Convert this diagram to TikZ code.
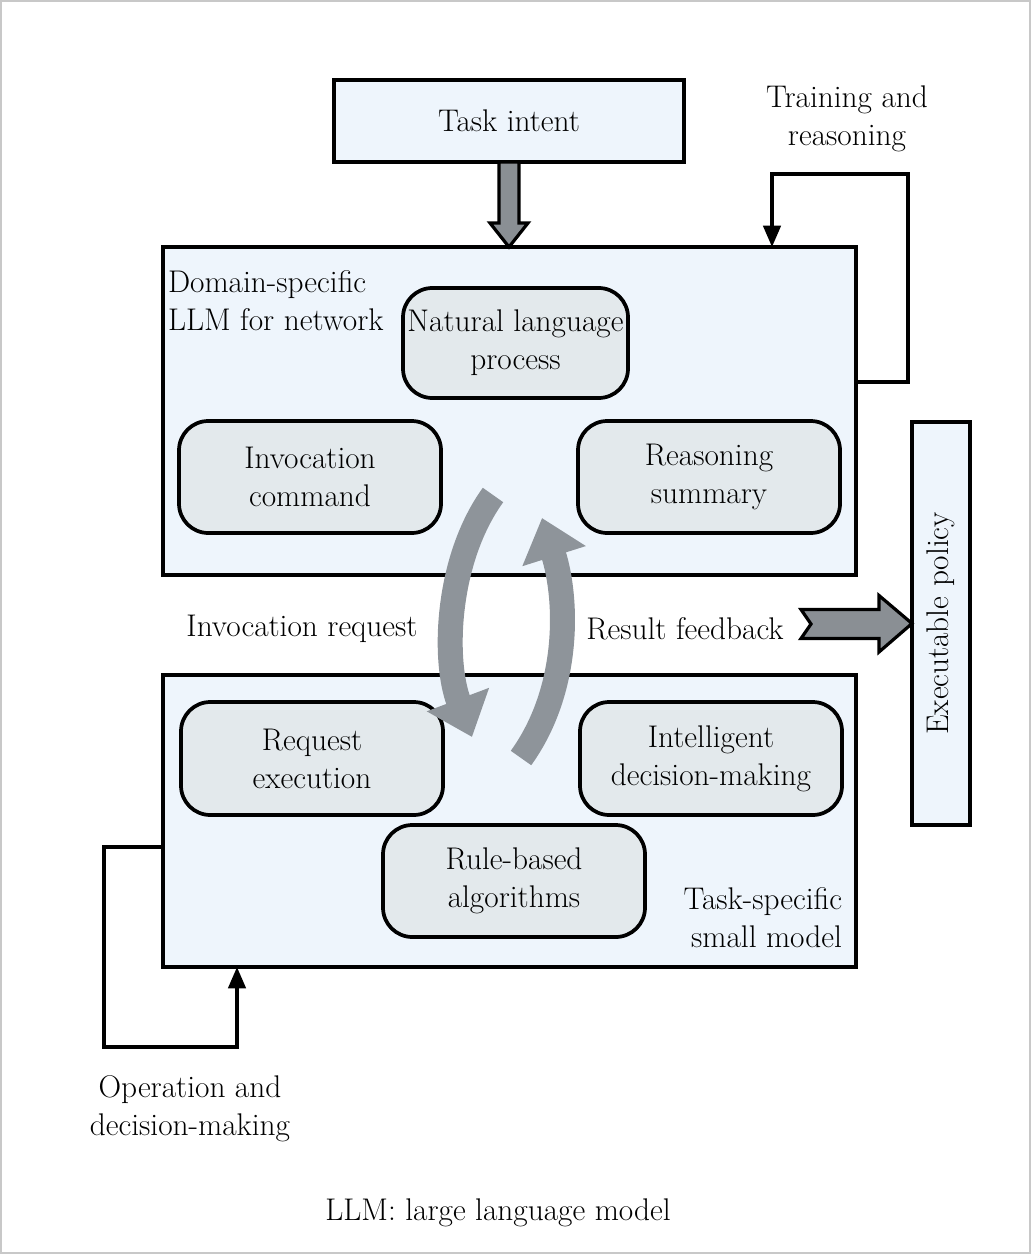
\documentclass[tikz,border=0pt]{standalone}
\usetikzlibrary{arrows.meta}
\definecolor{boxblue}{HTML}{EEF5FC}
\definecolor{roundgray}{HTML}{E3E9EC}
\definecolor{arrgray}{HTML}{8E949A}
\definecolor{blkgray}{HTML}{8A8F94}
\definecolor{framegray}{HTML}{C8C8C8}
\begin{document}
\begin{tikzpicture}[x=0.75pt,y=-0.75pt,
  every node/.style={font=\fontsize{23.5pt}{28.5pt}\selectfont, inner sep=0pt, outer sep=0pt},
  bigbox/.style={draw, line width=2.6pt, fill=boxblue},
  rbox/.style={draw, line width=2.8pt, fill=roundgray, rounded corners=22pt, minimum width=196.5pt, minimum height=84pt, align=center},
  loopline/.style={draw, line width=2.6pt, -{Triangle[width=13pt,length=16pt]}},
  blockarrow/.style={draw, line width=2.4pt, fill=blkgray, line join=miter},
  curvearrow/.style={draw=arrgray, line width=18.75pt, -{Triangle[width=48pt,length=30pt]}}
]
\useasboundingbox (0,0) rectangle (1032,1255);
\draw[framegray, line width=1.2pt] (1,1) rectangle (1030,1253);

% main boxes
\node[bigbox, minimum width=262.5pt, minimum height=61.5pt] (task) at (509,121) {Task intent};
\node[bigbox, minimum width=519.75pt, minimum height=246pt] (llm) at (509.5,411) {};
\node[bigbox, minimum width=519.75pt, minimum height=219pt] (small) at (509.5,821) {};
\node[bigbox, rotate=90, minimum width=302.25pt, minimum height=43.5pt] (exec) at (941,623.5) {Executable policy};

% inner rounded boxes
\node[rbox, minimum width=168.75pt, minimum height=82.5pt] (nlp) at (515.5,343) {Natural language\\process};
\node[rbox] (inv) at (310,477) {Invocation\\command};
\node[rbox] (rsn) at (709,477) {Reasoning\\summary};
\node[rbox, minimum height=84.75pt] (req) at (312,758.5) {Request\\execution};
\node[rbox, minimum height=84.75pt] (intd) at (711,758.5) {Intelligent\\decision-making};
\node[rbox] (rule) at (514,881) {Rule-based\\algorithms};

% labels
\node[align=left, anchor=west] (llmlbl) at (168,301) {Domain-specific\\LLM for network};
\node[align=center] (trlbl) at (847,119) {Training and\\reasoning};
\node[align=right, anchor=east] (smlbl) at (842,918) {Task-specific\\small model};
\node[align=center] (oplbl) at (190,1109) {Operation and\\decision-making};
\node (invlbl) at (302,629) {Invocation request};
\node (reslbl) at (685,629) {Result feedback};
\node (cap) at (498,1213) {LLM: large language model};

% feedback loops
\coordinate (tr1) at (908,382);
\coordinate (tr2) at (772,174);
\draw[loopline] (llm.east |- tr1) -- (tr1) |- (tr2) -- (llm.north -| tr2);
\coordinate (op1) at (104,847);
\coordinate (op2) at (237,1047);
\draw[loopline] (small.west |- op1) -- (op1) |- (op2) -- (small.south -| op2);

% block arrows
\draw[blockarrow] (task.south) ++(-10,0) -- ++(0,61) -- ++(-9,0) -- ++(19,24) -- ++(19,-24) -- ++(-9,0) -- ++(0,-61) -- cycle;
\draw[blockarrow] (exec.north) -- ++(-33,-28) -- ++(0,14) -- ++(-78,0) -- ++(10,14.5) -- ++(-10,14.5) -- ++(78,0) -- ++(0,13.5) -- cycle;

% curved arrows
\coordinate (ca1) at (493,495);
\coordinate (ca2) at (472,737);
\coordinate (cb1) at (521,758);
\coordinate (cb2) at (542,518);
\draw[curvearrow] (ca1) .. controls (446,560) and (443,660) .. (ca2);
\draw[curvearrow] (cb1) .. controls (570,690) and (568,600) .. (cb2);
\end{tikzpicture}
\end{document}
